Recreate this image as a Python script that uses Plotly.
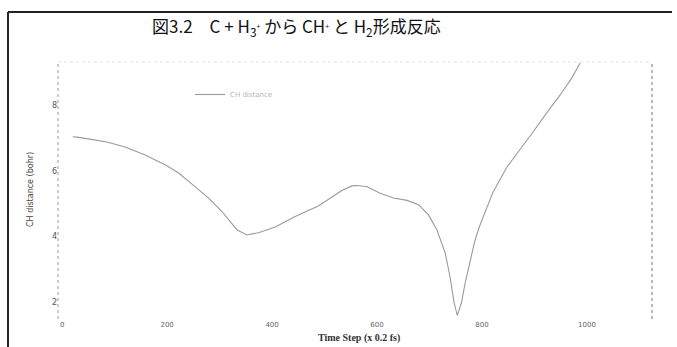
import plotly.graph_objects as go

# data
time_step = [20, 28, 53, 85, 120, 158, 196, 222, 253, 279, 304, 320, 333, 352,
             374, 406, 444, 488, 533, 552, 561, 580, 606, 631, 657, 679, 698,
             714, 730, 739, 747, 753, 761, 768, 777, 786, 795, 808, 821, 847,
             872, 898, 923, 949, 971, 987]
ch_distance = [7.03, 7.02, 6.96, 6.87, 6.72, 6.48, 6.18, 5.93, 5.52, 5.17, 4.77,
               4.46, 4.21, 4.05, 4.12, 4.29, 4.61, 4.93, 5.40, 5.54, 5.55, 5.52,
               5.32, 5.17, 5.10, 4.97, 4.66, 4.21, 3.50, 2.79, 1.98, 1.61, 2.00,
               2.60, 3.25, 3.85, 4.30, 4.85, 5.35, 6.10, 6.63, 7.19, 7.75, 8.30,
               8.81, 9.27]
x_ticks = [0, 200, 400, 600, 800, 1000]
y_ticks = [2, 4, 6, 8]

W, H = 677, 347
L, R, T, B = 58, 652, 62, 319

fig = go.Figure()
fig.add_trace(go.Scatter(x=time_step, y=ch_distance, mode="lines",
                         line=dict(color="#9a9a9a", width=1.1),
                         name="CH distance", showlegend=True))

def px(xp):
    return (xp - L) / (R - L)

def py(yp):
    return (B - yp) / (B - T)

fig.update_layout(
    width=W, height=H,
    margin=dict(l=L, r=W - R, t=T, b=H - B),
    paper_bgcolor="white", plot_bgcolor="white",
    showlegend=True,
    legend=dict(x=px(190), y=py(80), xanchor="left", yanchor="top",
                font=dict(size=7, color="#b5b5b5", family="DejaVu Sans"),
                bgcolor="rgba(0,0,0,0)", itemwidth=30),
    xaxis=dict(range=[-8, 1124], tickvals=x_ticks, showgrid=False,
               zeroline=False, showline=False, ticks="",
               tickfont=dict(size=7, color="#666", family="DejaVu Sans")),
    yaxis=dict(range=[1.5, 9.3], tickvals=y_ticks, showgrid=False,
               zeroline=False, showline=False, ticks="",
               tickfont=dict(size=8, color="#555", family="DejaVu Sans")),
)

shapes = [
    # outer frame (left and top)
    dict(type="line", xref="paper", yref="paper", x0=px(8), x1=px(8), y0=py(12), y1=py(347),
         line=dict(color="#222", width=2)),
    dict(type="line", xref="paper", yref="paper", x0=px(8), x1=px(672), y0=py(12), y1=py(12),
         line=dict(color="#222", width=2)),
    # dotted plot borders
    dict(type="line", xref="paper", yref="paper", x0=0, x1=0, y0=0, y1=1,
         line=dict(color="#999", width=1, dash="dot")),
    dict(type="line", xref="paper", yref="paper", x0=1, x1=1, y0=0, y1=1,
         line=dict(color="#777", width=1, dash="dot")),
    dict(type="line", xref="paper", yref="paper", x0=0, x1=1, y0=1, y1=1,
         line=dict(color="#e0e0e0", width=1, dash="dot")),
]
fig.update_layout(shapes=shapes)

fig.add_annotation(
    text=("図3.2　C + H<sub>3</sub><span style='font-size:10px'><sup>+</sup></span> から "
          "CH<span style='font-size:10px'><sup>+</sup></span> と H<sub>2</sub>形成反応"),
    xref="paper", yref="paper", x=px(150), y=py(26), xanchor="left", yanchor="middle",
    showarrow=False, font=dict(size=17, color="#111", family="Noto Sans CJK JP"))
fig.add_annotation(
    text="<b>Time Step (x 0.2 fs)</b>", xref="paper", yref="paper",
    x=px(359), y=py(338), xanchor="center", yanchor="middle", showarrow=False,
    font=dict(size=10, color="#333", family="Liberation Serif"))
fig.add_annotation(
    text="CH distance (bohr)", xref="paper", yref="paper",
    x=px(30), y=py(190), xanchor="center", yanchor="middle", textangle=-90,
    showarrow=False, font=dict(size=8, color="#444", family="DejaVu Sans"))

fig.write_html("out.html")
